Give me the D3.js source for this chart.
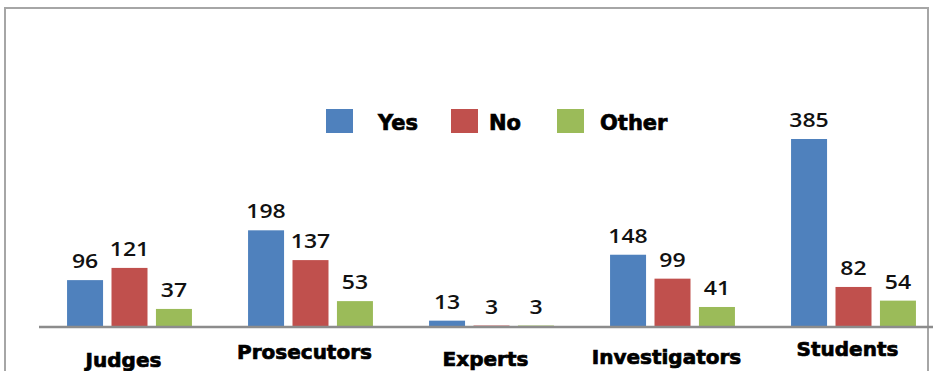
<!DOCTYPE html>
<html>
<head>
<meta charset="utf-8">
<script src="https://cdn.jsdelivr.net/npm/d3@7"></script>
<style>
  body { margin: 0; background: #fff; }
  .cat { font-family: "DejaVu Sans", sans-serif; font-weight: bold; font-size: 20px; stroke: #000; stroke-width: 0.7px; }
  .val { font-family: "Open Sans", sans-serif; font-weight: 600; font-size: 20px; fill: #111; }
  .leg { font-family: "DejaVu Sans", sans-serif; font-weight: bold; font-size: 21px; stroke: #000; stroke-width: 0.7px; }
</style>
</head>
<body>
<svg id="chart" width="933" height="371"></svg>
<script>
const categories = ["Judges", "Prosecutors", "Experts", "Investigators", "Students"];
const seriesNames = ["Yes", "No", "Other"];
const yes = [96, 198, 13, 148, 385];
const no = [121, 137, 3, 99, 82];
const other = [37, 53, 3, 41, 54];

const colors = ["#4f81bd", "#c0504d", "#9bbb59"];
// the category labels sit at uneven heights in the original
const catLabelY = [360, 352, 359, 357, 349];

const svg = d3.select("#chart");
const width = +svg.attr("width");
const height = +svg.attr("height");

const rows = categories.map((c, i) => ({
  cat: c,
  vals: [yes[i], no[i], other[i]]
}));

// frame
svg.append("rect")
  .attr("x", 5).attr("y", 8)
  .attr("width", 923).attr("height", 400)
  .attr("fill", "none")
  .attr("stroke", "#a6a6a6")
  .attr("stroke-width", 2);

const x0 = d3.scaleBand()
  .domain(categories)
  .range([39, 944])
  .paddingInner(0.31)
  .paddingOuter(0.155);

const x1 = d3.scaleBand()
  .domain(seriesNames)
  .range([0, x0.bandwidth()])
  .paddingInner(0.19);

const y = d3.scaleLinear()
  .domain([0, 385])
  .range([327, 139]);

const group = svg.append("g")
  .selectAll("g")
  .data(rows)
  .enter()
  .append("g")
  .attr("transform", d => `translate(${x0(d.cat)},0)`);

group.selectAll("rect")
  .data(d => d.vals.map((v, i) => ({key: seriesNames[i], v: v, i: i})))
  .enter()
  .append("rect")
  .attr("x", d => x1(d.key))
  .attr("y", d => y(d.v))
  .attr("width", x1.bandwidth())
  .attr("height", d => y(0) - y(d.v))
  .attr("fill", d => colors[d.i]);

group.selectAll("text")
  .data(d => d.vals.map((v, i) => ({key: seriesNames[i], v: v})))
  .enter()
  .append("text")
  .attr("class", "val")
  .attr("text-anchor", "middle")
  .attr("transform", d => `translate(${x1(d.key) + x1.bandwidth() / 2},${y(d.v) - 12}) scale(1.15,1)`)
  .text(d => d.v);

// baseline
svg.append("line")
  .attr("x1", 39).attr("x2", width)
  .attr("y1", y(0)).attr("y2", y(0))
  .attr("stroke", "#8c8c8c")
  .attr("stroke-width", 2.5);

// category labels
svg.append("g")
  .selectAll("text")
  .data(categories)
  .enter()
  .append("text")
  .attr("class", "cat")
  .attr("text-anchor", "middle")
  .attr("x", d => x0(d) + x0.bandwidth() / 2 - 6)
  .attr("y", (d, i) => catLabelY[i] + 7)
  .text(d => d);

// legend
const legX = [326, 451, 557];
const leg = svg.append("g")
  .selectAll("g")
  .data(seriesNames)
  .enter()
  .append("g")
  .attr("transform", (d, i) => `translate(${legX[i]},109)`);

leg.append("rect")
  .attr("width", 27).attr("height", 24)
  .attr("fill", (d, i) => colors[i]);

leg.append("text")
  .attr("class", "leg")
  .attr("x", (d, i) => i === 0 ? 52 : i === 1 ? 38 : 43)
  .attr("y", 21)
  .text(d => d);
</script>
</body>
</html>
